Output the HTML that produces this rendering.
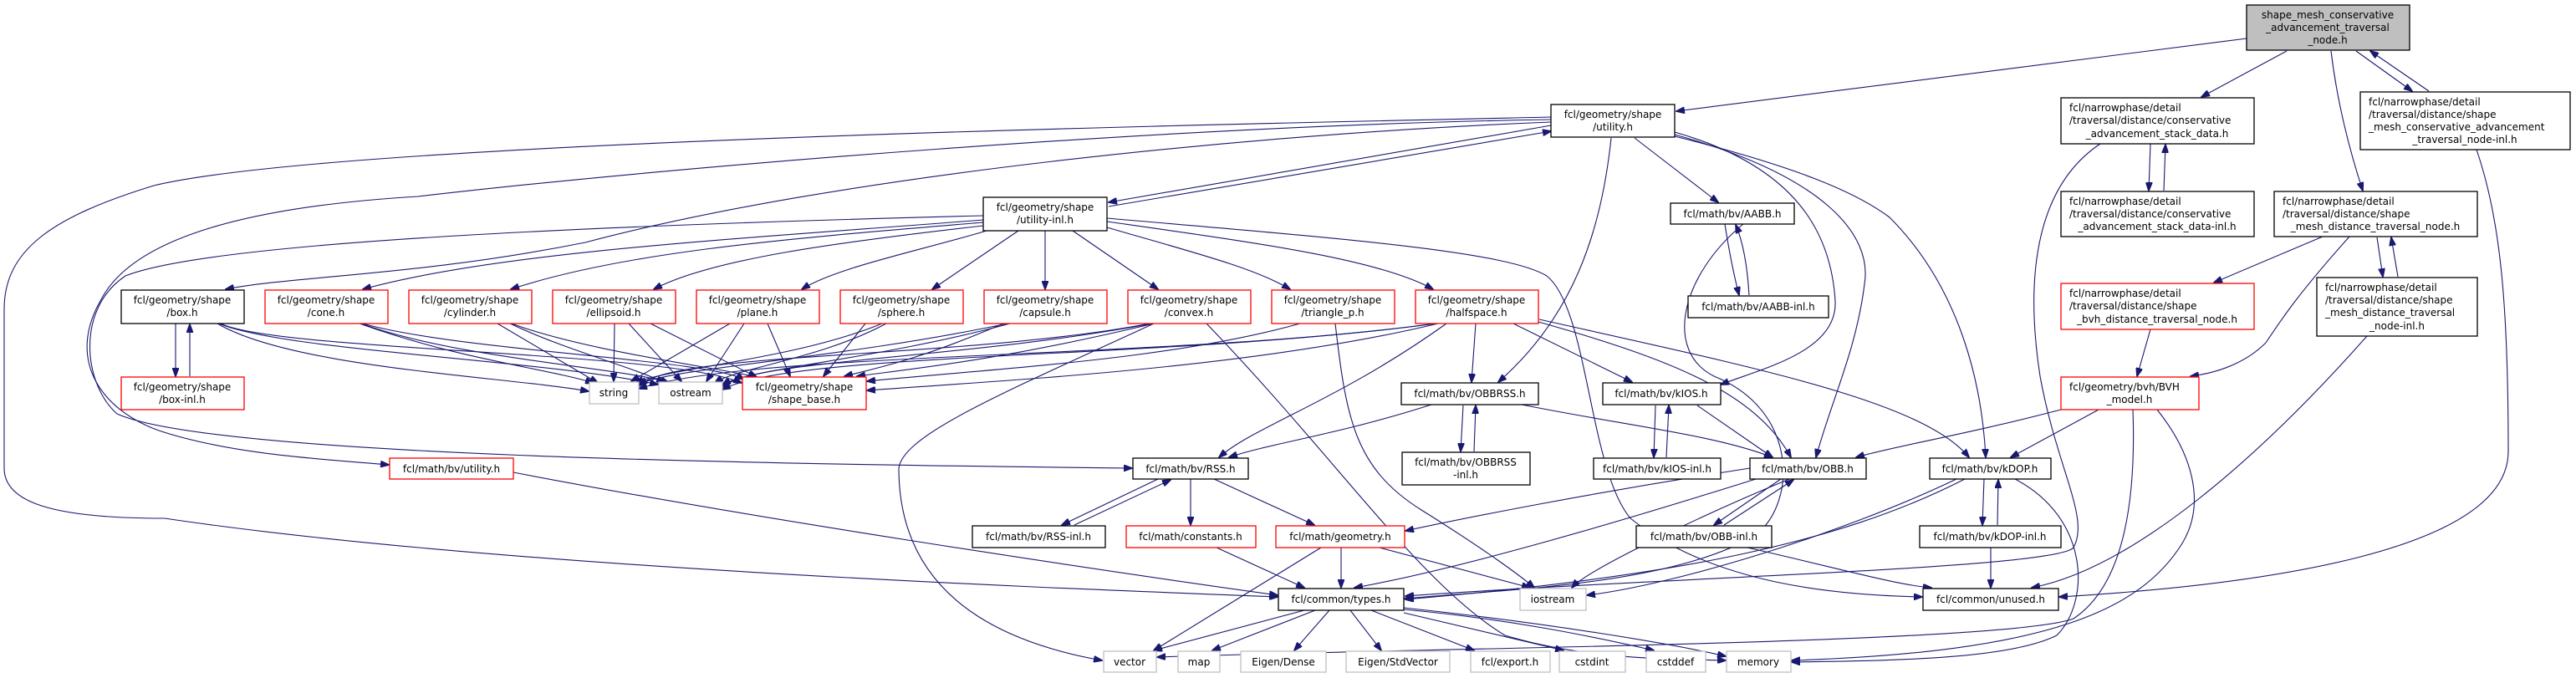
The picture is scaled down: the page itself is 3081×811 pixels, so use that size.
<!DOCTYPE html>
<html><head><meta charset="utf-8"><style>
html,body{margin:0;padding:0;background:#fff}
svg{display:block}
text{font-family:"DejaVu Sans","Liberation Sans",sans-serif;font-size:12px;fill:#000}
.e{fill:none;stroke:#191970;stroke-width:1.1}
.b{fill:#fff;stroke:#000;stroke-width:1.3}
.r{fill:#fff;stroke:#ff0000;stroke-width:1.3}
.g{fill:#fff;stroke:#bfbfbf;stroke-width:1.3}
</style></head><body>
<svg width="3081" height="811" viewBox="0 0 3081 811" xmlns="http://www.w3.org/2000/svg">
<defs><marker id="a" markerWidth="11" markerHeight="8" refX="10" refY="4" orient="auto" markerUnits="userSpaceOnUse"><path d="M0,0 L11,4 L0,8 Z" fill="#191970" stroke="#191970"/></marker></defs>
<g marker-end="url(#a)">
<path class="e" d="M2687,46 L2005,133"/>
<path class="e" d="M2735,61 L2633,116"/>
<path class="e" d="M2788,61 C2795,120 2810,180 2826,228"/>
<path class="e" d="M2818,61 L2885,109"/>
<path class="e" d="M2905,109 L2835,61"/>
<path class="e" d="M1855,150 L1326,242"/>
<path class="e" d="M1326,247 L1855,157"/>
<path class="e" d="M1955,165 L2055,242"/>
<path class="e" d="M1927,165 C1915,280 1880,380 1792,457"/>
<path class="e" d="M2003,158 C2150,200 2190,280 2195,360 C2198,420 2110,440 2058,460"/>
<path class="e" d="M2003,161 C2180,210 2240,280 2230,340 C2220,420 2190,480 2172,547"/>
<path class="e" d="M2003,163 C2150,200 2220,230 2260,260 C2340,340 2370,450 2375,547"/>
<path class="e" d="M1855,146 C1500,160 1000,210 700,290 C500,330 350,330 270,346"/>
<path class="e" d="M1855,143 C1400,150 800,200 500,235 C250,250 150,300 120,360 C80,430 120,490 190,515 C280,545 400,550 465,556"/>
<path class="e" d="M1855,140 C1400,150 400,170 184,222 C60,260 5,300 5,370 L5,560 C5,600 60,620 197,620 C600,680 1300,705 1528,714"/>
<path class="e" d="M1176,258 C700,270 250,290 150,330 C90,370 100,460 140,495 C250,545 900,555 1354,560"/>
<path class="e" d="M1176,263 C900,285 600,300 434,346"/>
<path class="e" d="M1176,266 C950,285 750,300 611,346"/>
<path class="e" d="M1176,270 C1000,290 850,310 782,346"/>
<path class="e" d="M1180,276 C1100,300 1000,320 959,346"/>
<path class="e" d="M1218,276 L1115,346"/>
<path class="e" d="M1250,276 L1250,346"/>
<path class="e" d="M1283,276 L1385,346"/>
<path class="e" d="M1324,272 C1420,300 1500,320 1543,346"/>
<path class="e" d="M1324,265 C1500,290 1650,310 1714,346"/>
<path class="e" d="M1324,261 C1600,285 1800,300 1850,330 C1900,370 1900,560 1950,620 C2050,700 2200,712 2299,714"/>
<path class="e" d="M210,387 L210,450"/>
<path class="e" d="M227,450 L227,388"/>
<!-- shapes to string/ostream/shape_base -->
<path class="e" d="M260,387 C350,440 600,450 704,468"/>
<path class="e" d="M262,387 C340,420 650,430 787,460"/>
<path class="e" d="M264,387 C330,420 800,420 887,458"/>
<path class="e" d="M430,387 C550,430 650,440 710,458"/>
<path class="e" d="M432,387 C550,430 750,440 800,458"/>
<path class="e" d="M434,387 C550,420 850,430 890,454"/>
<path class="e" d="M595,387 L715,458"/>
<path class="e" d="M610,387 C680,420 760,440 795,458"/>
<path class="e" d="M612,387 C700,420 860,440 905,451"/>
<path class="e" d="M735,387 L734,456"/>
<path class="e" d="M752,387 L815,456"/>
<path class="e" d="M778,387 L905,451"/>
<path class="e" d="M873,387 L755,456"/>
<path class="e" d="M890,387 L845,456"/>
<path class="e" d="M918,387 L945,450"/>
<path class="e" d="M1035,387 L985,450"/>
<path class="e" d="M1055,387 C950,430 800,440 760,458"/>
<path class="e" d="M1060,387 C980,430 880,440 855,458"/>
<path class="e" d="M1200,387 C1100,430 1050,440 1010,450"/>
<path class="e" d="M1205,387 C1000,430 800,440 764,460"/>
<path class="e" d="M1208,387 C1050,430 900,440 864,460"/>
<path class="e" d="M1380,387 C1200,430 1100,440 1025,450"/>
<path class="e" d="M1375,387 C1150,430 800,420 764,462"/>
<path class="e" d="M1378,387 C1150,430 900,430 864,463"/>
<path class="e" d="M1555,387 C1400,430 1200,440 1037,456"/>
<path class="e" d="M1720,387 C1500,440 1200,455 1037,467"/>
<path class="e" d="M1718,387 C1400,430 900,420 764,465"/>
<path class="e" d="M1716,387 C1400,430 950,420 864,466"/>
<path class="e" d="M1380,387 C1200,470 1080,520 1075,560 C1075,680 1150,760 1318,790"/>
<path class="e" d="M1443,387 C1600,550 1700,700 1800,760 C1900,790 2000,788 2064,790"/>
<path class="e" d="M1597,387 C1610,500 1620,560 1700,610 C1780,660 1820,690 1835,703"/>
<path class="e" d="M1765,387 L1760,457"/>
<path class="e" d="M1730,387 C1600,480 1500,510 1458,547"/>
<path class="e" d="M1810,387 L1952,457"/>
<path class="e" d="M1840,385 C2000,430 2100,470 2142,547"/>
<path class="e" d="M1841,382 C2100,440 2300,480 2355,547"/>
<path class="e" d="M1712,484 C1600,520 1520,530 1470,547"/>
<path class="e" d="M1820,484 C1950,510 2050,520 2120,547"/>
<path class="e" d="M1750,485 L1747,540"/>
<path class="e" d="M1763,540 L1765,485"/>
<path class="e" d="M1980,485 L1978,547"/>
<path class="e" d="M1993,547 L1996,485"/>
<path class="e" d="M2030,485 L2120,547"/>
<path class="e" d="M2063,268 C2068,300 2074,330 2080,353"/>
<path class="e" d="M2092,353 C2090,320 2085,290 2076,269"/>
<path class="e" d="M2085,268 C2010,330 1990,420 2050,450 C2150,490 2150,600 2100,640 C2000,700 1800,705 1680,716"/>
<path class="e" d="M2130,573 L2050,628"/>
<path class="e" d="M2062,628 L2145,574"/>
<path class="e" d="M2093,560 C1900,590 1750,620 1681,635"/>
<path class="e" d="M2100,573 C1950,620 1750,680 1620,703"/>
<path class="e" d="M2140,573 C2050,610 1900,680 1880,703"/>
<path class="e" d="M2090,655 C2200,680 2270,700 2310,703"/>
<path class="e" d="M2373,573 L2371,628"/>
<path class="e" d="M2389,628 L2390,574"/>
<path class="e" d="M2350,573 C2200,650 2000,690 1681,717"/>
<path class="e" d="M2340,573 C2200,640 2000,700 1898,712"/>
<path class="e" d="M2410,573 C2500,620 2500,720 2460,760 C2400,790 2250,790 2143,792"/>
<path class="e" d="M2381,655 L2381,703"/>
<path class="e" d="M1385,573 L1270,628"/>
<path class="e" d="M1285,628 L1400,574"/>
<path class="e" d="M1424,573 L1424,628"/>
<path class="e" d="M1452,573 L1572,628"/>
<path class="e" d="M1455,655 L1560,703"/>
<path class="e" d="M1604,655 L1604,703"/>
<path class="e" d="M1580,655 L1380,778"/>
<path class="e" d="M1650,655 L1830,703"/>
<path class="e" d="M614,565 C900,620 1300,680 1528,712"/>
<path class="e" d="M1560,730 L1380,778"/>
<path class="e" d="M1573,730 L1450,778"/>
<path class="e" d="M1590,730 L1548,778"/>
<path class="e" d="M1615,730 L1652,778"/>
<path class="e" d="M1640,730 L1763,778"/>
<path class="e" d="M1679,733 L1870,778"/>
<path class="e" d="M1679,729 C1800,740 1900,760 1978,778"/>
<path class="e" d="M1679,727 C1850,745 2000,770 2064,785"/>
<path class="e" d="M2512,172 C2440,220 2420,320 2440,450 C2460,560 2500,620 2480,655 C2460,680 2000,690 1681,713"/>
<path class="e" d="M2572,172 L2570,228"/>
<path class="e" d="M2588,228 L2590,173"/>
<path class="e" d="M2962,179 C2990,260 3000,360 3000,540 C3000,660 2700,700 2463,714"/>
<path class="e" d="M2778,283 L2648,338"/>
<path class="e" d="M2810,283 C2750,350 2730,380 2710,410 C2690,430 2660,445 2620,450"/>
<path class="e" d="M2843,284 L2850,331"/>
<path class="e" d="M2868,331 L2860,284"/>
<path class="e" d="M2831,402 C2700,550 2550,680 2430,703"/>
<path class="e" d="M2572,394 L2556,450"/>
<path class="e" d="M2465,490 C2350,520 2260,535 2220,547"/>
<path class="e" d="M2510,490 L2405,547"/>
<path class="e" d="M2551,490 C2555,600 2540,700 2480,740 C2400,770 1700,775 1384,786"/>
<path class="e" d="M2580,490 C2620,540 2640,600 2610,650 C2560,730 2450,780 2143,790"/>
</g>
<!-- nodes -->
<rect x="2687" y="6" width="195" height="54" fill="#bfbfbf" stroke="#000" stroke-width="1.3"/>
<text x="2784" y="22" text-anchor="middle">shape_mesh_conservative</text>
<text x="2784" y="37" text-anchor="middle">_advancement_traversal</text>
<text x="2784" y="52" text-anchor="middle">_node.h</text>

<rect class="b" x="2465" y="117" width="231" height="55"/>
<text x="2475" y="133">fcl/narrowphase/detail</text>
<text x="2475" y="148">/traversal/distance/conservative</text>
<text x="2580" y="164" text-anchor="middle">_advancement_stack_data.h</text>

<rect class="b" x="2465" y="229" width="231" height="54"/>
<text x="2475" y="245">fcl/narrowphase/detail</text>
<text x="2475" y="260">/traversal/distance/conservative</text>
<text x="2580" y="275" text-anchor="middle">_advancement_stack_data-inl.h</text>

<rect class="b" x="2823" y="110" width="251" height="69"/>
<text x="2833" y="126">fcl/narrowphase/detail</text>
<text x="2833" y="141">/traversal/distance/shape</text>
<text x="2833" y="156">_mesh_conservative_advancement</text>
<text x="2948" y="171" text-anchor="middle">_traversal_node-inl.h</text>

<rect class="b" x="2720" y="229" width="243" height="54"/>
<text x="2730" y="245">fcl/narrowphase/detail</text>
<text x="2730" y="260">/traversal/distance/shape</text>
<text x="2841" y="275" text-anchor="middle">_mesh_distance_traversal_node.h</text>

<rect class="r" x="2465" y="339" width="231" height="55"/>
<text x="2475" y="355">fcl/narrowphase/detail</text>
<text x="2475" y="370">/traversal/distance/shape</text>
<text x="2580" y="386" text-anchor="middle">_bvh_distance_traversal_node.h</text>

<rect class="b" x="2771" y="332" width="192" height="70"/>
<text x="2781" y="348">fcl/narrowphase/detail</text>
<text x="2781" y="363">/traversal/distance/shape</text>
<text x="2781" y="378">_mesh_distance_traversal</text>
<text x="2867" y="394" text-anchor="middle">_node-inl.h</text>

<rect class="r" x="2465" y="451" width="165" height="39"/>
<text x="2475" y="467">fcl/geometry/bvh/BVH</text>
<text x="2547" y="482" text-anchor="middle">_model.h</text>

<rect class="b" x="1855" y="125" width="148" height="39"/>
<text x="1929" y="141" text-anchor="middle">fcl/geometry/shape</text>
<text x="1929" y="156" text-anchor="middle">/utility.h</text>

<rect class="b" x="1176" y="236" width="148" height="40"/>
<text x="1250" y="252" text-anchor="middle">fcl/geometry/shape</text>
<text x="1250" y="267" text-anchor="middle">/utility-inl.h</text>

<rect class="b" x="1998" y="243" width="148" height="25"/>
<text x="2072" y="260" text-anchor="middle">fcl/math/bv/AABB.h</text>
<rect class="b" x="2019" y="354" width="168" height="26"/>
<text x="2103" y="371" text-anchor="middle">fcl/math/bv/AABB-inl.h</text>

<rect class="b" x="145" y="347" width="147" height="40"/>
<text x="218" y="363" text-anchor="middle">fcl/geometry/shape</text><text x="218" y="378" text-anchor="middle">/box.h</text>
<rect class="r" x="317" y="347" width="147" height="40"/>
<text x="390" y="363" text-anchor="middle">fcl/geometry/shape</text><text x="390" y="378" text-anchor="middle">/cone.h</text>
<rect class="r" x="489" y="347" width="147" height="40"/>
<text x="562" y="363" text-anchor="middle">fcl/geometry/shape</text><text x="562" y="378" text-anchor="middle">/cylinder.h</text>
<rect class="r" x="661" y="347" width="147" height="40"/>
<text x="734" y="363" text-anchor="middle">fcl/geometry/shape</text><text x="734" y="378" text-anchor="middle">/ellipsoid.h</text>
<rect class="r" x="833" y="347" width="147" height="40"/>
<text x="906" y="363" text-anchor="middle">fcl/geometry/shape</text><text x="906" y="378" text-anchor="middle">/plane.h</text>
<rect class="r" x="1005" y="347" width="147" height="40"/>
<text x="1078" y="363" text-anchor="middle">fcl/geometry/shape</text><text x="1078" y="378" text-anchor="middle">/sphere.h</text>
<rect class="r" x="1177" y="347" width="147" height="40"/>
<text x="1250" y="363" text-anchor="middle">fcl/geometry/shape</text><text x="1250" y="378" text-anchor="middle">/capsule.h</text>
<rect class="r" x="1349" y="347" width="147" height="40"/>
<text x="1422" y="363" text-anchor="middle">fcl/geometry/shape</text><text x="1422" y="378" text-anchor="middle">/convex.h</text>
<rect class="r" x="1521" y="347" width="147" height="40"/>
<text x="1594" y="363" text-anchor="middle">fcl/geometry/shape</text><text x="1594" y="378" text-anchor="middle">/triangle_p.h</text>
<rect class="r" x="1693" y="347" width="147" height="40"/>
<text x="1766" y="363" text-anchor="middle">fcl/geometry/shape</text><text x="1766" y="378" text-anchor="middle">/halfspace.h</text>

<rect class="r" x="145" y="451" width="147" height="39"/>
<text x="218" y="467" text-anchor="middle">fcl/geometry/shape</text><text x="218" y="482" text-anchor="middle">/box-inl.h</text>

<rect class="g" x="705" y="457" width="59" height="26"/><text x="734" y="474" text-anchor="middle">string</text>
<rect class="g" x="788" y="457" width="76" height="26"/><text x="826" y="474" text-anchor="middle">ostream</text>
<rect class="r" x="888" y="451" width="148" height="39"/>
<text x="962" y="467" text-anchor="middle">fcl/geometry/shape</text><text x="962" y="482" text-anchor="middle">/shape_base.h</text>

<rect class="b" x="1676" y="458" width="164" height="26"/><text x="1758" y="475" text-anchor="middle">fcl/math/bv/OBBRSS.h</text>
<rect class="b" x="1677" y="541" width="153" height="39"/>
<text x="1753" y="557" text-anchor="middle">fcl/math/bv/OBBRSS</text><text x="1753" y="572" text-anchor="middle">-inl.h</text>
<rect class="b" x="1917" y="458" width="141" height="26"/><text x="1987" y="475" text-anchor="middle">fcl/math/bv/kIOS.h</text>
<rect class="b" x="1906" y="548" width="152" height="25"/><text x="1982" y="565" text-anchor="middle">fcl/math/bv/kIOS-inl.h</text>
<rect class="b" x="1355" y="548" width="138" height="25"/><text x="1424" y="565" text-anchor="middle">fcl/math/bv/RSS.h</text>
<rect class="r" x="466" y="548" width="148" height="25"/><text x="540" y="565" text-anchor="middle">fcl/math/bv/utility.h</text>
<rect class="b" x="2093" y="548" width="139" height="25"/><text x="2162" y="565" text-anchor="middle">fcl/math/bv/OBB.h</text>
<rect class="b" x="2308" y="548" width="145" height="25"/><text x="2380" y="565" text-anchor="middle">fcl/math/bv/kDOP.h</text>

<rect class="b" x="1163" y="629" width="159" height="26"/><text x="1242" y="646" text-anchor="middle">fcl/math/bv/RSS-inl.h</text>
<rect class="r" x="1347" y="629" width="155" height="26"/><text x="1424" y="646" text-anchor="middle">fcl/math/constants.h</text>
<rect class="r" x="1526" y="629" width="154" height="26"/><text x="1603" y="646" text-anchor="middle">fcl/math/geometry.h</text>
<rect class="b" x="1957" y="629" width="162" height="26"/><text x="2038" y="646" text-anchor="middle">fcl/math/bv/OBB-inl.h</text>
<rect class="b" x="2296" y="629" width="169" height="26"/><text x="2380" y="646" text-anchor="middle">fcl/math/bv/kDOP-inl.h</text>

<rect class="b" x="1529" y="704" width="150" height="26"/><text x="1604" y="721" text-anchor="middle">fcl/common/types.h</text>
<rect class="g" x="1818" y="704" width="79" height="26"/><text x="1857" y="721" text-anchor="middle">iostream</text>
<rect class="b" x="2300" y="704" width="162" height="26"/><text x="2381" y="721" text-anchor="middle">fcl/common/unused.h</text>

<rect class="g" x="1320" y="779" width="63" height="25"/><text x="1351" y="796" text-anchor="middle">vector</text>
<rect class="g" x="1409" y="779" width="50" height="25"/><text x="1434" y="796" text-anchor="middle">map</text>
<rect class="g" x="1484" y="779" width="102" height="25"/><text x="1535" y="796" text-anchor="middle">Eigen/Dense</text>
<rect class="g" x="1610" y="779" width="124" height="25"/><text x="1672" y="796" text-anchor="middle">Eigen/StdVector</text>
<rect class="g" x="1759" y="779" width="95" height="25"/><text x="1806" y="796" text-anchor="middle">fcl/export.h</text>
<rect class="g" x="1865" y="779" width="79" height="25"/><text x="1904" y="796" text-anchor="middle">cstdint</text>
<rect class="g" x="1969" y="779" width="71" height="25"/><text x="2004" y="796" text-anchor="middle">cstddef</text>
<rect class="g" x="2065" y="779" width="77" height="25"/><text x="2103" y="796" text-anchor="middle">memory</text>
</svg>
</body></html>
